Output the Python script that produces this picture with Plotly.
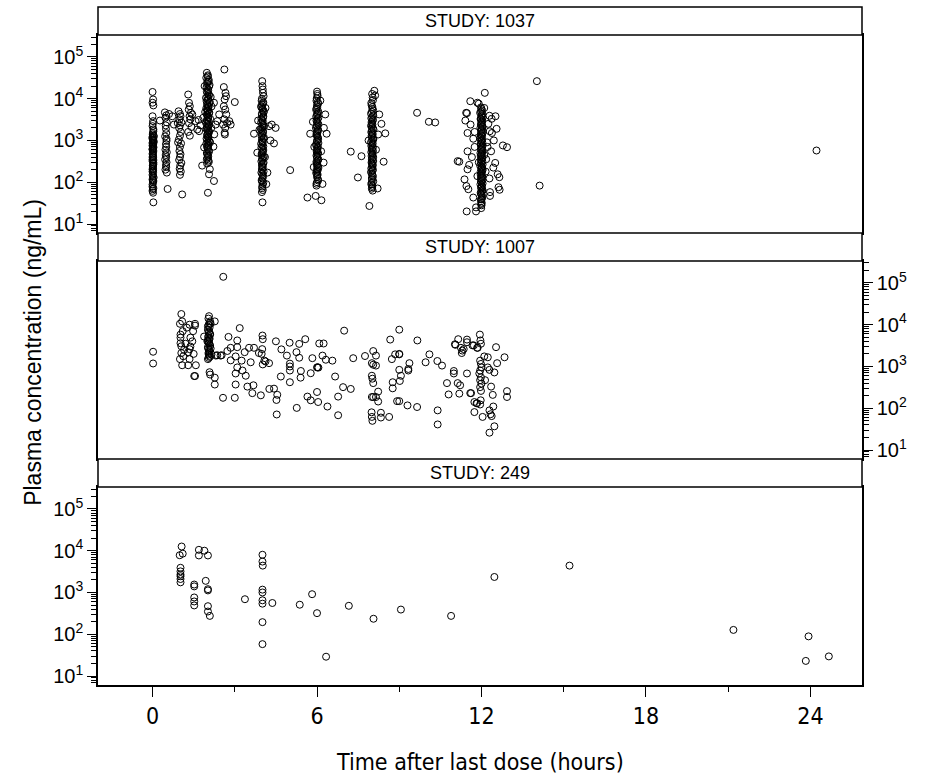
import plotly.graph_objects as go

# ---------------- data (time after last dose [h], concentration [ng/mL]) ----------------
study_labels = ["STUDY: 1037", "STUDY: 1007", "STUDY: 249"]

points_1037 = [
    # ~0 h
    (0.00,14500),(0.02,9600),(0.00,8000),(0.03,6900),(0.00,3800),(0.02,2900),(0.00,2200),(0.03,1670),
    (0.01,1390),(0.00,1160),(0.02,1050),(0.04,960),(0.00,880),(0.02,800),(0.01,730),(0.03,670),(0.00,600),
    (0.02,420),(0.00,350),(0.03,293),(0.01,245),(0.00,204),(0.02,170),(0.00,117),(0.03,107),(0.01,68),
    (0.00,62),(0.02,56),(0.27,3000),(0.05,1250),(0.03,33),
    (0.01,1500),(0.03,1300),(0.00,1100),(0.02,1000),(0.04,900),(0.00,760),(0.01,640),(0.03,560),(0.00,480),
    (0.02,390),(0.00,320),(0.03,270),(0.01,230),(0.02,190),(0.00,150),(0.04,130),(0.02,100),(0.00,78),
    (0.01,2500),(0.03,1850),(0.00,1220),(0.02,1020),(0.01,840),(0.03,700),(0.00,620),(0.02,520),(0.01,450),
    (0.00,400),(0.03,340),(0.01,250),(0.02,210),(0.00,180),(0.02,140),(0.01,112),(0.00,88),(0.03,72),
    # ~0.5 h
    (0.45,4700),(0.50,4000),(0.47,3500),(0.52,2700),(0.48,2300),(0.50,1500),(0.46,1250),(0.51,980),
    (0.49,820),(0.50,700),(0.47,600),(0.52,520),(0.48,450),(0.50,400),(0.46,350),(0.51,300),(0.49,260),
    (0.50,230),(0.47,200),(0.52,170),(0.55,69),(0.72,3800),(0.78,2400),(0.60,4300),(0.49,1900),(0.51,1100),
    # ~1 h
    (0.95,5000),(1.00,4300),(1.02,3800),(0.98,3200),(1.05,2700),(1.00,2300),(0.97,2000),(1.03,1600),
    (1.00,1300),(0.96,1050),(1.04,850),(1.00,700),(0.98,560),(1.02,470),(1.00,400),(0.97,340),(1.05,290),
    (1.01,250),(0.99,210),(1.03,180),(1.00,150),(1.08,51),(0.92,2600),(0.93,900),
    # 1.3 - 1.8 h
    (1.30,12600),(1.33,8000),(1.36,6600),(1.32,5500),(1.40,4600),(1.35,3800),(1.38,3200),(1.33,2600),
    (1.42,2100),(1.30,1600),(1.36,1300),(1.45,4200),
    (1.57,2900),(1.63,1830),(1.70,1670),(1.75,2300),(1.68,3100),
    # ~2 h
    (1.98,41700),(2.02,36300),(1.96,31600),(2.05,28200),(2.00,25100),(2.08,21400),(1.97,18600),(2.03,15800),
    (2.00,13800),(2.06,12000),(1.95,10500),(2.02,9300),(2.09,8300),(1.99,7400),(2.04,6600),(1.96,5900),
    (2.01,5200),(2.07,4700),(1.98,4200),(2.03,3700),(2.10,3300),(2.00,2950),(1.95,2630),(2.05,2340),
    (2.01,2090),(1.97,1860),(2.06,1660),(2.02,1480),(1.99,1320),(2.04,1170),(2.00,1050),(2.08,930),
    (1.96,830),(2.03,740),(2.01,660),(2.05,575),(1.98,500),(2.02,435),(2.00,380),(2.04,330),(1.99,280),
    (2.01,34000),(2.04,26000),(1.99,23000),(2.06,19800),(2.02,17000),(1.98,14800),(2.05,12800),(2.00,11200),
    (2.03,9900),(1.97,8800),(2.07,7900),(2.01,7000),(2.04,6200),(1.99,5500),(2.02,4950),(2.06,4450),
    (2.00,3950),(2.03,3500),(1.98,3100),(2.05,2800),(2.01,2480),(2.04,2210),(1.99,1970),(2.02,1760),
    (2.06,1570),(2.00,1400),(2.03,1240),(1.97,1110),(2.05,990),(2.01,880),(2.04,785),(1.99,700),
    (2.02,620),(2.06,540),(2.00,470),(2.03,410),(1.98,355),(2.05,305),
    (1.81,250),(2.06,155),(2.24,107),(2.02,56),(2.09,205),(1.88,680),(2.22,710),(2.30,2400),(2.25,1400),
    (1.85,3500),(2.15,6500),(1.90,20000),(2.12,11000),(1.92,4800),(2.14,2000),(2.10,900),
    # ~2.6 h
    (2.62,50000),(2.60,19000),(2.66,13800),(2.68,11500),(2.63,9600),(2.60,6600),(2.65,5500),(2.69,4200),
    (2.62,3200),(2.57,2400),(2.65,2000),(2.63,1520),(2.64,1390),(2.85,2400),(3.00,8300),(2.36,2900),
    (2.24,8000),(2.43,4200),(2.72,2600),(2.80,2900),
    # ~4 h
    (4.00,26300),(4.02,16600),(4.05,11500),(3.98,8900),(4.03,7600),(3.96,6600),(4.01,5750),(4.06,5000),
    (3.99,4400),(4.04,3800),(3.97,3300),(4.02,2900),(4.00,2500),(4.07,2200),(3.95,1900),(4.03,1660),
    (4.00,1450),(3.98,1260),(4.05,1100),(4.01,955),(3.96,830),(4.04,725),(4.00,630),(4.02,550),(3.98,480),
    (4.06,415),(4.00,365),(3.97,316),(4.03,275),(4.01,240),(3.99,209),(4.05,182),(4.00,158),(4.02,132),
    (3.98,112),(4.04,98),(4.00,79),(4.02,65),(3.99,58),(4.01,33),
    (4.01,20000),(4.03,13800),(3.99,10000),(4.04,8200),(4.00,7100),(3.97,6200),(4.02,5350),(4.05,4700),
    (3.99,4100),(4.03,3550),(4.00,3100),(3.96,2700),(4.04,2350),(4.01,2050),(3.98,1780),(4.03,1550),
    (4.00,1350),(4.06,1180),(3.99,1030),(4.02,890),(4.00,775),(3.97,675),(4.04,590),(4.01,515),(3.98,445),
    (4.03,390),(4.00,340),(4.05,295),(3.99,258),(4.02,225),(4.00,195),(3.97,170),(4.03,145),(4.01,122),
    (3.99,105),(4.02,88),(4.00,72),
    (3.70,1450),(3.82,510),(4.25,2200),(4.49,2000),(4.43,850),(4.19,170),(5.02,195),(4.35,2400),
    (3.85,3000),(4.30,1000),(4.12,6000),(3.90,1800),(4.10,400),(4.15,90),
    # ~6 h
    (6.00,14800),(6.02,11700),(5.98,8900),(6.04,7600),(6.01,6300),(5.97,5400),(6.03,4600),(6.00,4000),
    (6.05,3500),(5.98,3000),(6.02,2600),(6.00,2300),(5.96,2000),(6.04,1740),(6.01,1510),(5.99,1320),
    (6.03,1150),(6.00,1000),(6.05,870),(5.97,760),(6.02,660),(6.00,575),(6.04,500),(5.98,435),(6.01,380),
    (6.03,330),(5.99,290),(6.00,250),(6.05,220),(6.02,190),(5.97,166),(6.01,145),(6.03,120),(6.00,100),
    (5.98,83),(5.95,47),(6.16,37),
    (6.01,13000),(5.99,10200),(6.03,8200),(6.00,7000),(5.98,5850),(6.04,5000),(6.01,4300),(5.97,3750),
    (6.02,3250),(6.00,2800),(6.05,2450),(5.99,2150),(6.03,1870),(6.00,1630),(5.98,1420),(6.02,1230),
    (6.04,1070),(6.00,935),(5.97,815),(6.03,710),(6.01,615),(5.99,535),(6.02,465),(6.00,405),(6.05,355),
    (5.98,310),(6.01,270),(6.03,235),(6.00,205),(5.99,178),(6.02,155),(6.00,132),(6.04,110),(5.98,92),
    (5.65,43),(5.75,1450),(6.35,1450),(6.24,295),(6.20,91),(6.30,4200),(5.85,2800),(6.25,2000),
    (5.90,700),(6.12,9000),(6.15,550),(5.88,230),
    # 7 - 8 h
    (7.23,540),(7.62,420),(7.49,130),
    # ~8 h
    (8.09,15500),(8.03,10700),(7.98,7900),(8.02,6300),(8.05,5200),(7.97,4400),(8.01,3600),(8.04,3200),
    (7.99,2750),(8.02,2400),(8.00,2100),(8.06,1820),(7.98,1580),(8.03,1380),(8.00,1200),(8.05,1050),
    (7.97,910),(8.01,790),(8.04,690),(8.00,600),(7.98,525),(8.02,455),(8.05,400),(8.00,345),(7.99,300),
    (8.03,265),(8.01,230),(8.04,200),(7.97,175),(8.02,148),(8.00,126),(8.05,105),(7.98,89),(8.01,76),
    (8.03,63),(7.91,27),
    (8.01,13000),(8.04,9200),(7.99,7000),(8.02,5700),(8.00,4800),(8.05,4000),(7.98,3400),(8.03,2950),
    (8.01,2600),(7.97,2250),(8.04,1950),(8.00,1700),(8.02,1480),(7.99,1290),(8.05,1120),(8.01,980),
    (8.03,850),(7.98,740),(8.00,645),(8.04,560),(8.02,490),(7.99,425),(8.01,370),(8.05,322),(8.00,280),
    (8.03,248),(7.98,215),(8.02,188),(8.00,160),(8.04,137),(8.01,115),(7.99,97),(8.02,82),(8.00,70),
    (8.49,1480),(8.43,310),(8.21,71),(8.35,2500),(8.27,4200),(8.23,1390),(7.88,1000),(8.15,600),(8.12,12000),
    # 9 - 10 h
    (9.65,4600),(10.08,2800),(10.31,2700),
    # ~12 h
    (11.98,6200),(12.02,5200),(11.95,4600),(12.00,4000),(12.04,3500),(11.97,3200),(12.01,2800),(11.99,2500),
    (12.03,2200),(11.96,2000),(12.00,1780),(12.05,1580),(11.98,1410),(12.02,1260),(11.95,1120),(12.00,1000),
    (12.03,890),(11.97,790),(12.01,710),(11.99,630),(12.04,560),(11.96,500),(12.00,450),(12.02,400),
    (11.98,355),(12.03,316),(12.00,280),(11.95,250),(12.01,224),(12.04,200),(11.97,178),(12.00,158),
    (12.02,141),(11.98,126),(12.03,112),(12.00,100),(11.96,89),(12.01,79),(11.99,71),(12.04,63),
    (11.97,56),(12.00,50),(12.02,42),(11.98,35),(12.00,28),(11.99,24),(11.80,20),
    (12.00,5700),(11.98,4900),(12.03,4300),(12.01,3750),(11.97,3350),(12.02,3000),(12.00,2650),(11.98,2350),
    (12.04,2100),(12.01,1880),(11.99,1680),(12.03,1490),(12.00,1330),(11.97,1190),(12.02,1060),(12.00,945),
    (11.98,840),(12.04,750),(12.01,670),(11.99,595),(12.03,530),(12.00,475),(11.97,425),(12.02,375),
    (12.00,335),(11.98,298),(12.04,265),(12.01,236),(11.99,211),(12.03,188),(12.00,168),(11.97,150),
    (12.02,133),(12.00,119),(11.98,106),(12.04,94),(12.01,84),(11.99,75),(12.03,67),(12.00,60),
    (11.98,53),(12.02,46),(12.00,39),(12.01,32),(11.99,30),
    (12.12,13800),(11.59,8700),(11.47,4500),(11.41,3000),(11.49,1510),(11.13,320),(11.19,310),(11.49,550),
    (11.49,204),(11.38,117),(11.45,81),(11.52,68),(11.46,20),(11.80,25),(11.70,43),(11.98,39),(12.31,47),
    (12.51,3800),(12.29,3900),(12.37,3300),(12.30,1660),(12.38,1510),(12.78,760),(12.93,690),(12.35,550),
    (12.43,224),(12.59,155),(12.65,132),(12.62,76),(12.66,66),(12.29,123),(12.31,58),(12.17,355),
    (11.60,2400),(11.70,1100),(11.75,700),(11.65,400),(12.20,900),(12.25,2500),(12.10,6000),(11.85,8000),
    (12.45,1000),(12.55,1900),(11.55,260),(12.50,290),(11.44,4600),(11.90,7600),
    (11.85,140),(12.15,180),(11.75,1600),(12.22,700),(11.90,300),(12.10,450),
    # late samples
    (14.02,26300),(14.12,83),(24.22,575),
]

points_1007 = [
    (0.02,2250),(0.02,1180),
    # ~1 h
    (1.05,18000),(1.00,10500),(1.08,12000),(1.35,10000),(1.55,10500),(1.55,9500),(1.02,5800),(1.02,4900),
    (1.38,4900),(1.05,3050),(1.38,3000),(1.05,2100),(1.12,1760),(1.50,2000),(1.08,1070),(1.30,1070),
    (1.58,1070),(1.52,590),(1.55,590),(1.35,2600),(1.35,1500),(1.20,3500),(1.10,7000),(1.25,8500),
    (1.45,4000),(1.00,1500),(1.48,7000),(1.15,2500),(1.02,3600),(1.30,2200),
    # ~2 h
    (2.06,16000),(2.27,12000),(2.10,12000),(2.04,9800),(2.08,8500),(2.02,7500),(2.06,6500),(2.10,5800),
    (2.03,5000),(2.07,4400),(2.05,3800),(2.09,3300),(2.02,2900),(2.06,2500),(2.04,2100),(2.08,1800),
    (2.05,1600),(1.88,5200),(2.15,1950),(2.36,1860),(2.52,1860),(2.08,730),(2.10,640),(2.27,540),
    (2.27,370),(2.57,178),(3.00,178),(2.31,1820),(2.12,10500),(2.00,4000),(2.12,2700),(2.48,1820),
    (2.04,14000),(2.08,11000),(2.02,9000),(2.06,7000),(2.10,6000),(2.04,5400),(2.08,4700),(2.02,4100),
    (2.06,3550),(2.10,3100),(2.03,2700),(2.07,2300),(2.05,1950),(2.09,1700),(2.02,1500),
    (2.58,140000),
    # 2.5 - 7.5 h
    (2.77,5100),(2.85,2800),(2.85,1400),(2.73,2350),(3.18,8300),(3.09,4200),(3.09,2900),(3.03,1740),
    (3.25,1380),(3.09,950),(3.03,680),(3.03,370),
    (3.36,2200),(3.52,2800),(3.70,2800),(3.58,1260),(3.28,800),(3.40,600),(3.46,330),(3.68,355),
    (3.64,230),(3.95,204),
    (4.01,5500),(4.02,4500),(4.00,2600),(3.88,2100),(3.98,2000),(4.08,1380),(4.02,1120),(4.12,1320),
    (4.25,1200),(4.26,290),(4.55,210),(4.43,295),(4.52,158),(4.53,71),
    (4.50,4000),(4.70,2570),(4.90,1820),(5.00,3700),(5.01,1170),(5.01,1000),(5.01,800),(5.01,420),(4.68,575),
    (5.25,2200),(5.35,3470),(5.35,1620),(5.41,780),(5.40,540),(5.26,102),(5.57,4500),(5.65,190),
    (5.77,155),(5.83,1580),(5.77,690),
    (6.00,950),(6.02,960),(6.05,940),(6.00,245),(6.04,141),(6.08,3550),(6.24,3550),(6.20,1820),
    (6.32,1450),(6.38,110),(6.56,1380),(6.66,575),(6.77,190),(6.77,68),(6.95,320),(6.99,7200),
    (7.23,290),(7.32,1580),
    # 7.5 - 13 h
    (7.75,1780),(8.05,2340),(8.15,1820),(8.00,1200),(8.05,1100),(8.15,1050),(8.00,600),(8.02,510),
    (8.05,400),(8.00,186),(8.05,186),(8.15,186),(8.23,250),(8.23,145),
    (7.99,80),(8.00,62),(8.02,50),(8.33,78),(8.33,60),(8.63,62),
    (8.67,4400),(9.00,7600),(8.73,1500),(8.85,1950),(9.00,1950),(9.00,2000),(9.00,830),(9.06,600),
    (9.02,450),(8.76,420),(8.76,300),(8.92,148),(9.00,148),(9.30,117),(9.65,107),
    (9.37,1200),(9.33,870),(9.33,800),(9.66,4200),(9.96,1260),(10.10,1950),(10.39,1350),(10.56,1050),
    (10.40,89),(10.40,41),(10.74,400),(10.80,214),
    (10.99,780),(10.99,680),(11.03,3400),(11.05,3300),(11.15,4500),(11.13,400),(11.22,355),(11.19,224),
    (11.25,2800),(11.30,2400),(11.35,2600),(11.28,2100),(11.47,4400),(11.47,3800),(11.47,680),
    (11.59,230),(11.62,230),
    (11.67,3200),(11.72,3200),(11.84,2800),(11.86,2800),(11.74,141),(11.74,81),
    (11.94,5800),(11.96,4200),(11.98,3500),
    (11.95,1380),(11.98,1150),(12.00,950),(11.95,800),(11.92,680),(11.98,550),(11.95,470),(12.00,390),
    (11.95,320),(11.98,260),(11.97,155),(11.95,123),
    (12.10,1740),(12.23,1660),(12.23,950),(12.29,830),(12.47,720),(12.57,1200),(12.53,2900),(12.84,1660),
    (12.13,470),(12.35,330),(12.41,209),(12.43,110),
    (12.29,89),(12.33,72),(12.37,65),(12.04,62),(12.47,37),(12.29,26),(12.93,257),(12.93,186),
    (11.84,132),(11.82,132),
]

points_249 = [
    (1.06,12600),(0.99,7800),(1.10,8500),(1.02,3900),(1.02,3200),(1.02,2700),(1.02,2450),(1.02,2100),
    (1.02,1750),
    (1.69,10500),(1.69,7700),(1.89,10000),(2.02,7700),(1.52,1550),(1.52,1400),(1.52,760),(1.52,610),
    (1.52,490),(1.94,1900),(2.02,1200),(2.02,1120),(2.02,470),(2.02,350),(2.09,275),
    (3.37,690),(4.01,8000),(4.01,5500),(4.02,4400),(4.01,1170),(4.01,1000),(4.01,650),(4.01,540),
    (4.01,195),(4.01,58),(4.37,560),(5.37,510),(5.82,910),(6.00,320),(6.33,29),(7.16,480),(8.06,235),
    (9.06,390),(10.89,275),
    (12.47,2350),(15.21,4400),(21.19,127),(23.93,89),(23.83,23),(24.67,29.5),
]

x_ticks = [0, 6, 12, 18, 24]
x_minor_ticks = [3, 9, 15, 21]
y_ticks = [10, 100, 1000, 10000, 100000]
y_ticktext = ["10<sup>1</sup>", "10<sup>2</sup>", "10<sup>3</sup>", "10<sup>4</sup>", "10<sup>5</sup>"]
y_minor_ticks = [m * 10 ** k for k in range(0, 6) for m in range(2, 10)]

x_title = "Time after last dose (hours)"
y_title = "Plasma concentration (ng/mL)"

# ---------------- figure ----------------
FONT = "Liberation Sans, Arial, Helvetica, sans-serif"
NARROW = "Liberation Sans Narrow, Arial Narrow, DejaVu Sans Condensed, sans-serif"

panel_domains = [(0.6667, 0.9587), (0.3333, 0.6254), (0.0, 0.2920)]
strip_domains = [(0.9587, 1.0), (0.6254, 0.6667), (0.2920, 0.3333)]
all_points = [points_1037, points_1007, points_249]

fig = go.Figure()
for i, pts in enumerate(all_points):
    suffix = "" if i == 0 else str(i + 1)
    fig.add_trace(go.Scatter(
        x=[p[0] for p in pts], y=[p[1] for p in pts],
        mode="markers",
        marker=dict(symbol="circle-open", size=7, color="black", line=dict(width=1, color="black")),
        xaxis="x" + suffix, yaxis="y" + suffix, showlegend=False, hoverinfo="x+y",
    ))

xrange = [-1.99, 25.88]
yrange = [0.785, 5.525]
layout = dict(
    template="none",
    width=931, height=776,
    margin=dict(l=98, r=69, t=7, b=91, autoexpand=False),
    paper_bgcolor="white", plot_bgcolor="white",
    font=dict(family=FONT, color="black"),
    showlegend=False,
)

for i in range(3):
    suffix = "" if i == 0 else str(i + 1)
    xa = dict(
        domain=[0, 1], range=xrange, anchor="y" + suffix, automargin=False,
        showline=True, mirror=True, linecolor="black", linewidth=1.5,
        showgrid=False, zeroline=False,
    )
    if i == 2:
        xa.update(
            tickmode="array", tickvals=x_ticks, ticktext=[str(v) for v in x_ticks],
            ticks="outside", ticklen=10, tickwidth=1, tickcolor="black",
            tickfont=dict(family=NARROW, size=23),
            minor=dict(tickmode="array", tickvals=x_minor_ticks, ticks="outside",
                       ticklen=5, tickwidth=1, tickcolor="black", showgrid=False),
        )
    else:
        xa.update(showticklabels=False, ticks="", matches="x3")
    ya = dict(
        domain=list(panel_domains[i]), type="log", range=yrange, anchor="x" + suffix,
        automargin=False,
        side="right" if i == 1 else "left",
        showline=True, mirror=True, linecolor="black", linewidth=1.5,
        showgrid=False, zeroline=False,
        tickmode="array", tickvals=y_ticks, ticktext=y_ticktext,
        ticks="outside", ticklen=9, tickwidth=1, tickcolor="black",
        tickfont=dict(family=FONT, size=20),
        minor=dict(tickmode="array", tickvals=y_minor_ticks, ticks="outside",
                   ticklen=5, tickwidth=1, tickcolor="black", showgrid=False),
    )
    layout["xaxis" + suffix] = xa
    layout["yaxis" + suffix] = ya

shapes = []
annotations = []
for i, (y0, y1) in enumerate(strip_domains):
    shapes.append(dict(type="rect", xref="paper", yref="paper", x0=0, x1=1, y0=y0, y1=y1,
                       line=dict(color="black", width=1.5), fillcolor="white", layer="above"))
    annotations.append(dict(text=study_labels[i], xref="paper", yref="paper",
                            x=0.5, y=(y0 + y1) / 2, xanchor="center", yanchor="middle",
                            showarrow=False, font=dict(family=FONT, size=18, color="black")))

annotations.append(dict(text=y_title, xref="paper", yref="paper", x=-0.085, y=0.49,
                        xanchor="center", yanchor="middle", textangle=-90, showarrow=False,
                        font=dict(family=FONT, size=23, color="black")))
annotations.append(dict(text=x_title, xref="paper", yref="paper", x=0.5, y=-0.1136,
                        xanchor="center", yanchor="middle", showarrow=False,
                        font=dict(family=NARROW, size=23, color="black")))

layout["shapes"] = shapes
layout["annotations"] = annotations
fig.update_layout(**layout)

fig.write_html(
    "out.html",
    config={"displayModeBar": False},
    post_script="document.body.style.margin='0';document.body.style.overflow='hidden';",
)
